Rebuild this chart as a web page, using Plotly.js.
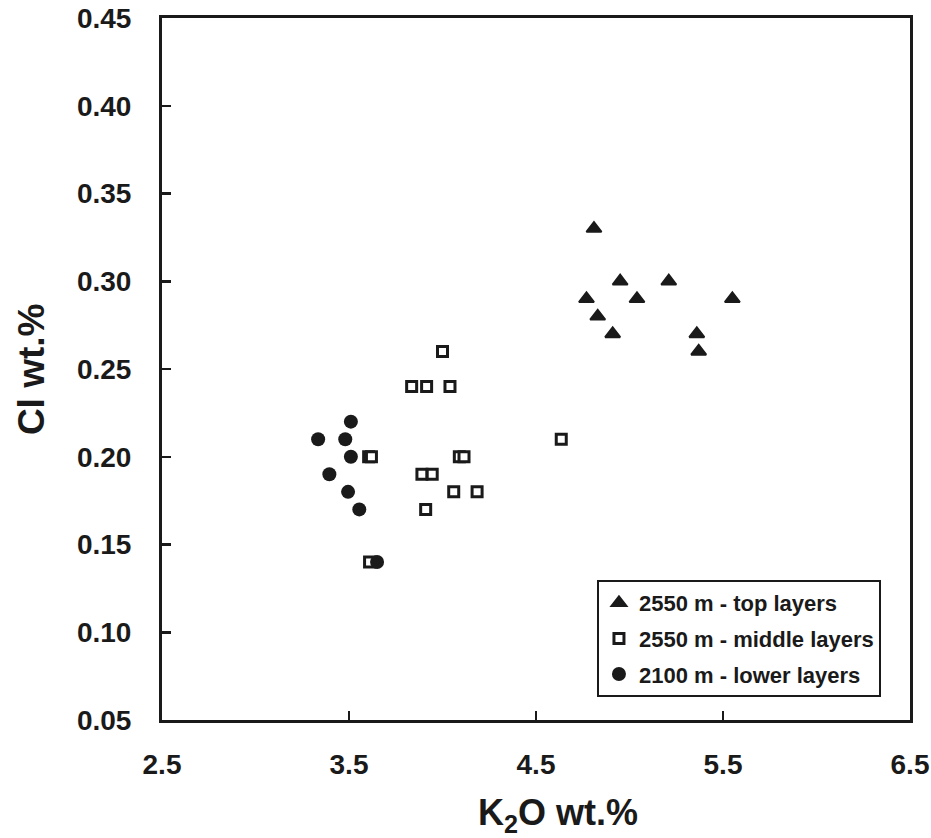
<!DOCTYPE html>
<html>
<head>
<meta charset="utf-8">
<script src="https://cdn.plot.ly/plotly-3.0.1.min.js"></script>
<style>html,body{margin:0;padding:0;background:#fff;}#chart{width:931px;height:838px;}</style>
</head>
<body>
<div id="chart"></div>
<script>
// Data
const seriesNames = ["2550 m - top layers", "2550 m - middle layers", "2100 m - lower layers"];
const topK2O = [4.81, 4.77, 4.95, 4.83, 5.04, 4.91, 5.21, 5.55, 5.36, 5.37];
const topCl  = [0.33, 0.29, 0.30, 0.28, 0.29, 0.27, 0.30, 0.29, 0.27, 0.26];
const midK2O = [4.00, 3.835, 3.915, 4.04, 4.635, 3.605, 3.62, 4.09, 4.115, 3.89, 3.945, 4.06, 4.185, 3.91, 3.61];
const midCl  = [0.26, 0.24, 0.24, 0.24, 0.21, 0.20, 0.20, 0.20, 0.20, 0.19, 0.19, 0.18, 0.18, 0.17, 0.14];
const lowK2O = [3.51, 3.335, 3.48, 3.51, 3.395, 3.495, 3.555, 3.65];
const lowCl  = [0.22, 0.21, 0.21, 0.20, 0.19, 0.18, 0.17, 0.14];
const xTicks = [2.5, 3.5, 4.5, 5.5, 6.5];
const yTicks = [0.05, 0.10, 0.15, 0.20, 0.25, 0.30, 0.35, 0.40, 0.45];

const ink = "#1a1a1a";
const fam = "Liberation Sans, Arial, sans-serif";

const traces = [
  {x: topK2O, y: topCl, name: seriesNames[0], legendgroup: "a", mode: "markers", type: "scatter",
   marker: {symbol: "triangle-up", size: 13, color: ink, line: {color: ink, width: 2}}},
  {x: midK2O, y: midCl, name: seriesNames[1], legendgroup: "b", mode: "markers", type: "scatter",
   marker: {symbol: "square", size: 10, color: "#ffffff", line: {color: ink, width: 3}}},
  {x: lowK2O, y: lowCl, name: seriesNames[2], legendgroup: "c", mode: "markers", type: "scatter",
   marker: {symbol: "circle", size: 14, color: ink, line: {width: 0}}}
];

const layout = {
  width: 931, height: 838,
  margin: {l: 162, r: 21, t: 18, b: 118},
  paper_bgcolor: "#fff", plot_bgcolor: "#fff",
  font: {family: fam, color: ink, weight: "bold"},
  showlegend: true,
  legend: {x: 0.5815, y: 0.1994, xanchor: "left", yanchor: "top",
    bordercolor: ink, borderwidth: 2, bgcolor: "#fff",
    font: {family: fam, size: 22, color: ink, weight: "bold"},
    traceorder: "grouped", tracegroupgap: 4},
  xaxis: {range: [2.5, 6.5], tickvals: xTicks, ticktext: xTicks.map(v => v.toFixed(1)),
    showgrid: false, zeroline: false, showline: true, linecolor: ink, linewidth: 3, mirror: true,
    ticks: "inside", ticklen: 9, tickwidth: 2.5, tickcolor: ink, ticklabelstandoff: 17,
    tickfont: {family: fam, size: 28, color: ink, weight: "bold"}},
  yaxis: {range: [0.05, 0.45], tickvals: yTicks, ticktext: yTicks.map(v => v.toFixed(2)),
    showgrid: false, zeroline: false, showline: true, linecolor: ink, linewidth: 3, mirror: true,
    ticks: "inside", ticklen: 9, tickwidth: 2.5, tickcolor: ink, ticklabelstandoff: 22,
    tickfont: {family: fam, size: 28, color: ink, weight: "bold"}},
  annotations: [
    {text: "K<sub>2</sub>O wt.%", xref: "paper", yref: "paper",
     x: 0.53, y: -0.1, xanchor: "center", yanchor: "top", showarrow: false,
     font: {family: fam, size: 36, color: ink, weight: "bold"}},
    {text: "Cl wt.%", xref: "paper", yref: "paper", textangle: -90,
     x: -0.175, y: 0.5, xanchor: "center", yanchor: "middle", showarrow: false,
     font: {family: fam, size: 37, color: ink, weight: "bold"}}]
};

Plotly.newPlot("chart", traces, layout, {displayModeBar: false, staticPlot: true});
</script>
</body>
</html>
